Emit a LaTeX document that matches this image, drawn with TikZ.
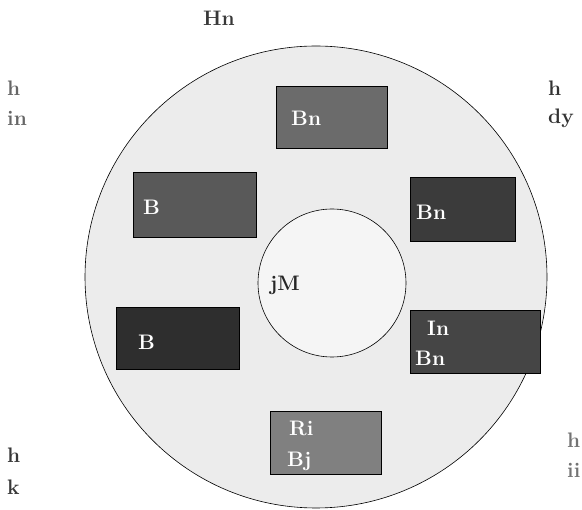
\documentclass[tikz,border=0pt]{standalone}
\usepackage{fontspec}
\usepackage{xcolor}
\definecolor{ringgray}{HTML}{ECECEC}
\definecolor{hubgray}{HTML}{F5F5F5}
\tikzset{
	lbl/.style={font=\fontsize{21}{22}\selectfont\bfseries, inner sep=0pt, anchor=west},
	box/.style={draw=black, line width=0.8pt, anchor=north west, inner sep=0pt},
	boxtxt/.style={lbl, text=white}
}
\begin{document}
\begin{tikzpicture}[x=1pt, y=-1pt]
		\useasboundingbox (0,0) rectangle (582,510);
		\node[draw, circle, fill=ringgray, minimum size=462pt, line width=0.6pt, inner sep=0pt] (ring) at (316,277) {};
		\node[draw, circle, fill=hubgray, minimum size=148pt, line width=0.6pt, inner sep=0pt] (hub) at (332,283) {};
		\node[lbl, text=black!85] (core) at (270,285) {jM};

		\node[box, fill=black!58, minimum width=111pt, minimum height=62pt] (n1) at (276,86) {};
		\node[boxtxt] (t1) at (291,118) {Bn};
		\node[box, fill=black!65, minimum width=123pt, minimum height=65pt] (n2) at (133,172) {};
		\node[boxtxt] (t2) at (143,207) {B};
		\node[box, fill=black!77, minimum width=105pt, minimum height=64pt] (n3) at (410,177) {};
		\node[boxtxt] (t3) at (416,212) {Bn};
		\node[box, fill=black!82, minimum width=123pt, minimum height=62pt] (n4) at (116,307) {};
		\node[boxtxt] (t4) at (138,342) {B};
		\node[box, fill=black!73, minimum width=130pt, minimum height=63pt] (n5) at (410,310) {};
		\node[boxtxt] (t5a) at (427,328) {In};
		\node[boxtxt] (t5b) at (415,358) {Bn};
		\node[box, fill=black!50, minimum width=111pt, minimum height=63pt] (n6) at (270,411) {};
		\node[boxtxt] (t6a) at (289,428) {Ri};
		\node[boxtxt] (t6b) at (287,461) {Bj};

		\node[lbl, text=black!78] (head) at (203,18) {Hn};
		\node[lbl, text=black!60] (la) at (7,88) {h};
		\node[lbl, text=black!60] (lb) at (7,118) {in};
		\node[lbl, text=black!80] (ra) at (548,88) {h};
		\node[lbl, text=black!80] (rb) at (548,118) {dy};
		\node[lbl, text=black!78] (lc) at (7,455) {h};
		\node[lbl, text=black!78] (ld) at (7,487) {k};
		\node[lbl, text=black!55] (rc) at (567,440) {h};
		\node[lbl, text=black!55] (rd) at (567,470) {ii};
	\end{tikzpicture}
\end{document}
